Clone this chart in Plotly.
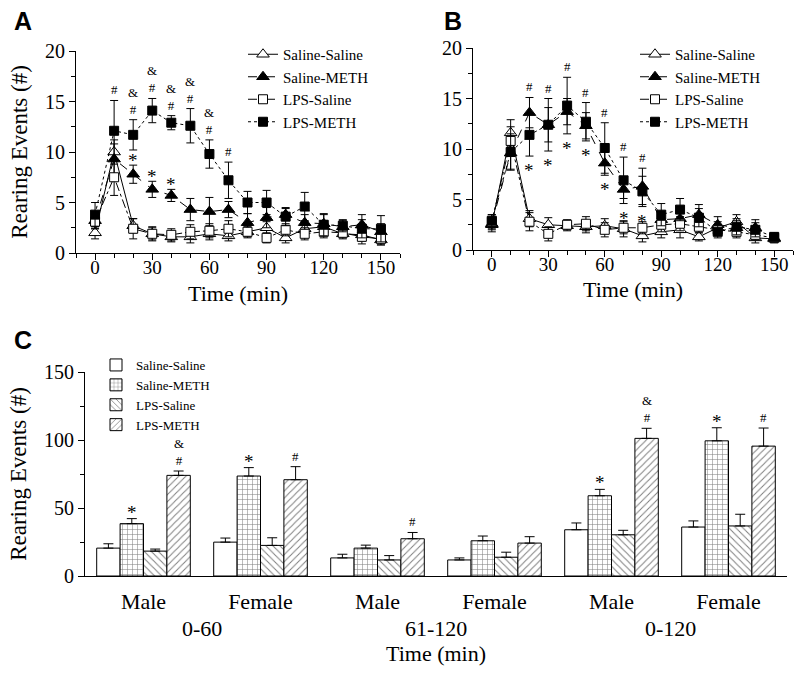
import plotly.graph_objects as go

W, H = 800, 678
SERIF = "Liberation Serif, Times New Roman, serif"

TIME_MIN = list(range(0, 160, 10))
GROUPS = ["Saline-Saline", "Saline-METH", "LPS-Saline", "LPS-METH"]

# ---- Panel A: male, rearing per 10-min bin ----
A_SS = [2.0, 10.0, 2.7, 1.9, 1.6, 1.6, 1.9, 1.7, 2.1, 2.5, 1.5, 2.4, 2.6, 1.9, 1.8, 1.3]
A_SS_ERR = [0.6, 1.2, 0.7, 0.6, 0.5, 0.6, 0.6, 0.5, 0.5, 0.6, 0.5, 0.7, 0.6, 0.5, 0.6, 0.5]
A_SM = [3.2, 9.3, 7.8, 6.3, 5.7, 4.3, 4.1, 4.3, 3.0, 3.5, 3.8, 3.0, 2.9, 2.6, 2.8, 2.1]
A_SM_ERR = [0.8, 1.5, 0.9, 0.8, 0.6, 1.1, 1.4, 0.8, 0.9, 1.0, 0.6, 0.8, 0.9, 0.6, 1.0, 0.8]
A_LS = [3.1, 7.5, 2.4, 1.9, 1.8, 2.1, 2.2, 2.4, 2.1, 1.5, 2.3, 1.9, 2.1, 2.0, 1.6, 1.4]
A_LS_ERR = [0.7, 1.8, 1.0, 0.7, 0.6, 0.7, 0.7, 0.8, 0.6, 0.5, 0.6, 0.6, 0.6, 0.5, 0.7, 0.6]
A_LM = [3.8, 12.1, 11.7, 14.1, 12.9, 12.6, 9.8, 7.2, 5.0, 5.0, 3.6, 4.6, 2.8, 2.7, 2.4, 2.4]
A_LM_ERR = [1.2, 3.0, 1.5, 1.2, 0.7, 1.7, 1.4, 1.8, 1.1, 1.2, 0.9, 1.4, 1.1, 0.6, 0.9, 1.3]
A_HASH = [10, 20, 30, 40, 50, 60, 70]
A_AMP = [20, 30, 40, 50, 60]
A_STAR = [20, 30, 40]

# ---- Panel B: female ----
B_SS = [2.5, 11.6, 3.1, 2.5, 2.4, 2.3, 2.4, 2.1, 1.4, 1.8, 2.0, 1.3, 2.2, 2.8, 1.2, 1.1]
B_SS_ERR = [0.7, 1.3, 0.8, 0.7, 0.5, 0.6, 0.7, 0.8, 0.6, 0.6, 0.8, 0.4, 0.6, 0.7, 0.5, 0.4]
B_SM = [2.6, 9.6, 13.6, 12.4, 13.7, 12.3, 8.6, 6.0, 6.3, 3.0, 3.1, 3.5, 2.5, 2.2, 2.2, 1.2]
B_SM_ERR = [0.6, 1.6, 1.5, 1.7, 1.3, 1.3, 1.2, 0.9, 1.8, 0.8, 0.8, 1.0, 0.8, 0.7, 0.8, 0.4]
B_LS = [2.8, 10.8, 2.8, 1.6, 2.5, 2.6, 2.0, 2.2, 2.2, 2.5, 2.6, 2.3, 2.0, 1.8, 1.5, 1.2]
B_LS_ERR = [0.7, 1.4, 0.9, 0.7, 0.5, 0.7, 0.7, 0.6, 0.6, 0.7, 0.7, 0.6, 0.5, 0.6, 0.5, 0.4]
B_LM = [2.9, 9.7, 11.4, 12.4, 14.3, 12.7, 10.1, 6.9, 5.8, 3.5, 4.0, 3.2, 1.8, 2.3, 2.0, 1.3]
B_LM_ERR = [0.6, 1.8, 2.1, 2.6, 2.8, 1.9, 2.5, 2.3, 1.5, 1.1, 1.1, 0.9, 0.6, 0.8, 0.7, 0.4]
B_HASH = [20, 30, 40, 50, 60, 70, 80]
B_STAR = [20, 30, 40, 50, 60, 70, 80]

# ---- Panel C: cumulative rearing ----
C_SEX = ["Male", "Female", "Male", "Female", "Male", "Female"]
C_PERIOD = ["0-60", "61-120", "0-120"]
C_SS = [20.5, 24.9, 13.3, 11.8, 34.0, 36.0]
C_SS_ERR = [3.2, 3.0, 2.7, 1.5, 5.0, 4.5]
C_SM = [38.5, 73.5, 20.5, 25.9, 59.0, 99.4]
C_SM_ERR = [3.7, 6.2, 2.2, 3.5, 4.7, 9.6]
C_LS = [18.3, 22.5, 11.8, 13.8, 30.3, 36.8]
C_LS_ERR = [1.5, 5.6, 3.2, 3.7, 3.3, 8.6]
C_LM = [74.0, 70.8, 27.4, 24.2, 101.2, 95.5]
C_LM_ERR = [3.2, 9.6, 4.6, 4.7, 7.4, 13.3]
C_STAR = [0, 1, 4, 5]
C_HASH = [0, 1, 2, 4, 5]
C_AMP = [0, 4]

LINE_STYLE = {
    "Saline-Saline": dict(symbol="triangle-up", fill="white", dash="solid", size=11),
    "Saline-METH": dict(symbol="triangle-up", fill="black", dash="dash", size=11),
    "LPS-Saline": dict(symbol="square", fill="white", dash="dashdot", size=9),
    "LPS-METH": dict(symbol="square", fill="black", dash="dot", size=9),
}
BAR_PATTERN = {"Saline-Saline": "", "Saline-METH": "+", "LPS-Saline": "\\", "LPS-METH": "/"}


def px_x(p):
    return p / W


def px_y(p):
    return 1 - p / H


fig = go.Figure()


def add_time_course(series, xa, ya, legend):
    for name, (mean, err) in zip(GROUPS, series):
        st = LINE_STYLE[name]
        fig.add_trace(go.Scatter(
            x=TIME_MIN, y=mean, name=name, mode="lines+markers",
            xaxis=xa, yaxis=ya, legend=legend,
            line=dict(color="black", width=1, dash=st["dash"]),
            marker=dict(symbol=st["symbol"], size=st["size"], color=st["fill"],
                        line=dict(color="black", width=1)),
            error_y=dict(type="data", array=err, color="black", thickness=1, width=4),
        ))


add_time_course([(A_SS, A_SS_ERR), (A_SM, A_SM_ERR), (A_LS, A_LS_ERR), (A_LM, A_LM_ERR)],
                "x", "y", "legend")
add_time_course([(B_SS, B_SS_ERR), (B_SM, B_SM_ERR), (B_LS, B_LS_ERR), (B_LM, B_LM_ERR)],
                "x2", "y2", "legend2")

C_SERIES = [(C_SS, C_SS_ERR), (C_SM, C_SM_ERR), (C_LS, C_LS_ERR), (C_LM, C_LM_ERR)]
for name, (mean, err) in zip(GROUPS, C_SERIES):
    fig.add_trace(go.Bar(
        x=list(range(len(C_SEX))), y=mean, name=name,
        xaxis="x3", yaxis="y3", legend="legend3",
        marker=dict(color="white", line=dict(color="black", width=1),
                    pattern=dict(shape=BAR_PATTERN[name], fgcolor="black",
                                 bgcolor="white", size=5, solidity=0.2)),
        error_y=dict(type="data", array=err, arrayminus=[0] * len(err),
                     symmetric=False, color="black", thickness=1, width=5),
    ))

ann = []
SIG_FONT = dict(family=SERIF, size=13, color="black")
STAR_FONT = dict(family=SERIF, size=19, color="black")


def sig(x, y, text, xref, yref, shift, anchor="bottom", font=SIG_FONT):
    ann.append(dict(x=x, y=y, xref=xref, yref=yref, text=text, showarrow=False,
                    yanchor=anchor, yshift=shift, font=font))


def hash_amp(has_amp):
    # "&" stacked over "#" in one text block
    return "&amp;<br>#" if has_amp else "#"


for t in A_HASH:
    i = TIME_MIN.index(t)
    sig(t, A_LM[i] + A_LM_ERR[i], hash_amp(t in A_AMP), "x", "y", 1)
for t in A_STAR:
    i = TIME_MIN.index(t)
    sig(t, A_SM[i] + A_SM_ERR[i], "*", "x", "y", -8, font=STAR_FONT)

for t in B_HASH:
    i = TIME_MIN.index(t)
    sig(t, max(B_LM[i] + B_LM_ERR[i], B_SM[i] + B_SM_ERR[i]), "#", "x2", "y2", 1)
for t in B_STAR:
    i = TIME_MIN.index(t)
    sig(t, min(B_LM[i] - B_LM_ERR[i], B_SM[i] - B_SM_ERR[i]), "*", "x2", "y2", -2, "top",
        font=STAR_FONT)

# bar centres inside a group of four: -0.3, -0.1, 0.1, 0.3
for i in C_STAR:
    sig(i - 0.1, C_SM[i] + C_SM_ERR[i], "*", "x3", "y3", -6, font=STAR_FONT)
for i in C_HASH:
    sig(i + 0.3, C_LM[i] + C_LM_ERR[i], hash_amp(i in C_AMP), "x3", "y3", 1)

LBL = dict(family=SERIF, size=22, color="black")
for k, period in enumerate(C_PERIOD):
    ann.append(dict(x=2 * k + 0.5, y=px_y(628), xref="x3", yref="paper", text=period,
                    showarrow=False, yanchor="middle", font=LBL))
ann.append(dict(x=2.5, y=px_y(653), xref="x3", yref="paper", text="Time (min)",
                showarrow=False, yanchor="middle", font=LBL))
# x titles of the time-course panels sit tight under their tick labels
for xref, ypx in [("x domain", 293), ("x2 domain", 290)]:
    ann.append(dict(x=0.5, y=px_y(ypx), xref=xref, yref="paper", text="Time (min)",
                    showarrow=False, yanchor="middle", font=LBL))

PANEL = dict(family="Liberation Sans, Arial, sans-serif", size=25, color="black")
for letter, x, y in [("A", 23, 21), ("B", 453, 21), ("C", 23, 340)]:
    ann.append(dict(x=px_x(x), y=px_y(y), xref="paper", yref="paper",
                    text=f"<b>{letter}</b>", showarrow=False,
                    xanchor="center", yanchor="middle", font=PANEL))

AX = dict(showline=True, linecolor="black", linewidth=1, showgrid=False, zeroline=False,
          ticks="outside", ticklen=6, tickcolor="black",
          tickfont=dict(family=SERIF, size=20, color="black"))
TIME_TICK_FONT = dict(family=SERIF, size=19, color="black")
MINOR = dict(ticklen=4, ticks="outside", tickcolor="black")
TITLE_FONT = dict(family=SERIF, size=23, color="black")
LEG_FONT = dict(family=SERIF, size=15, color="black")

fig.update_layout(
    width=W, height=H, margin=dict(l=0, r=0, t=0, b=0, autoexpand=False),
    font=dict(family=SERIF, color="black"),
    paper_bgcolor="white", plot_bgcolor="white",
    barmode="group", bargap=0.2, bargroupgap=0,
    annotations=ann,
    xaxis=dict(AX, domain=[px_x(76), px_x(400)], range=[-10, 160], tick0=0, dtick=30,
               minor=dict(MINOR, dtick=10), ticklabelstandoff=-9, tickfont=TIME_TICK_FONT,
               anchor="y"),
    yaxis=dict(AX, domain=[px_y(253), px_y(51)], range=[0, 20], dtick=5,
               minor=dict(MINOR, dtick=2.5),
               anchor="x", title=dict(text="Rearing Events (#)", font=TITLE_FONT, standoff=10)),
    xaxis2=dict(AX, domain=[px_x(473), px_x(793)], range=[-10, 160], tick0=0, dtick=30,
                minor=dict(MINOR, dtick=10), ticklabelstandoff=-9, tickfont=TIME_TICK_FONT,
                anchor="y2"),
    yaxis2=dict(AX, domain=[px_y(250), px_y(48)], range=[0, 20], dtick=5,
                minor=dict(MINOR, dtick=2.5), anchor="x2"),
    xaxis3=dict(AX, domain=[px_x(85), px_x(787)], range=[-0.5, 5.5],
                tickvals=list(range(len(C_SEX))), ticktext=C_SEX, ticks="",
                ticklabelstandoff=6, tickfont=dict(family=SERIF, size=22, color="black"),
                anchor="y3"),
    yaxis3=dict(AX, domain=[px_y(576), px_y(372)], range=[0, 150], dtick=50,
                minor=dict(MINOR, dtick=25),
                anchor="x3", title=dict(text="Rearing Events (#)", font=TITLE_FONT, standoff=10)),
    legend=dict(x=px_x(243), y=px_y(38), xanchor="left", yanchor="top",
                bgcolor="rgba(0,0,0,0)", font=LEG_FONT),
    legend2=dict(x=px_x(635), y=px_y(38), xanchor="left", yanchor="top",
                 bgcolor="rgba(0,0,0,0)", font=LEG_FONT),
    legend3=dict(x=px_x(96), y=px_y(350), xanchor="left", yanchor="top",
                 bgcolor="rgba(0,0,0,0)", font=dict(LEG_FONT, size=13)),
)

# browser default body margin would push the 800x678 figure off the window
fig.write_html("out.html", config={"displayModeBar": False},
               post_script="document.body.style.margin='0px';")
